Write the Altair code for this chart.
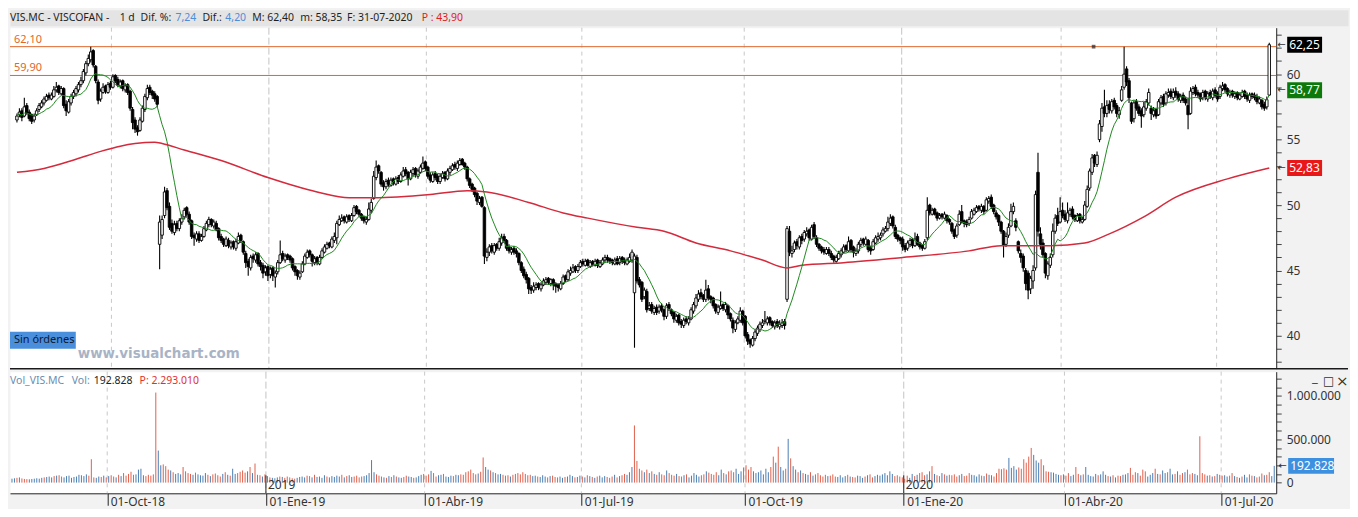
import altair as alt
import pandas as pd
import numpy as np

# ---------------- data ----------------
close_ = [
56.8,57.1,56.7,57.5,57.0,56.6,56.4,56.8,57.2,57.6,
57.8,58.1,58.3,58.2,58.4,58.8,59.0,58.6,58.9,57.6,
57.2,57.9,58.3,58.6,58.9,59.2,59.5,60.2,60.8,61.2,
61.7,60.7,59.5,58.0,58.7,59.0,58.7,59.2,59.0,59.8,
59.5,59.2,59.4,58.9,59.1,58.6,57.4,56.3,55.8,55.6,
56.5,57.4,58.3,58.9,58.6,58.4,58.1,57.7,48.7,48.9,
51.0,49.8,48.3,48.0,48.5,48.2,48.8,49.0,49.6,49.3,
48.7,47.6,47.5,47.8,47.3,47.6,48.2,48.6,48.9,48.5,
48.7,48.1,47.5,47.3,47.0,47.4,46.9,47.1,46.8,47.2,
47.6,47.3,46.4,45.6,45.3,46.0,45.9,46.2,45.5,45.3,
44.8,45.2,44.6,45.1,44.6,44.8,45.6,46.2,45.9,46.1,
46.0,45.8,45.2,44.9,44.6,44.8,45.5,46.1,46.4,46.2,
45.7,45.9,45.6,46.0,46.5,46.8,47.0,46.9,47.4,47.6,
48.6,48.9,49.0,48.8,49.1,48.9,49.2,49.8,49.5,49.3,
49.0,48.8,48.9,49.7,50.2,52.2,52.9,52.6,51.6,51.4,
51.8,51.6,51.9,51.7,52.0,51.8,52.3,52.6,52.4,52.0,
52.5,52.7,52.3,52.6,52.9,53.2,52.8,52.2,51.9,52.3,
52.1,51.8,52.2,52.4,52.0,52.6,52.8,53.0,52.9,53.2,
53.4,53.1,52.9,52.0,51.5,51.2,50.8,50.3,50.5,49.9,
46.1,46.4,46.8,46.5,46.9,46.7,47.2,47.5,47.3,46.7,
46.5,46.6,46.4,46.3,45.6,45.0,44.6,44.3,43.6,43.5,
43.8,43.9,43.7,43.9,44.2,44.3,44.1,44.3,43.9,43.8,
43.7,44.0,44.5,44.3,44.9,45.0,45.2,45.0,45.3,45.6,
45.5,45.7,45.4,45.6,45.5,45.7,45.4,45.6,45.8,46.0,
45.8,45.7,45.6,45.8,45.5,45.9,45.7,45.6,45.8,46.0,
46.4,46.1,44.2,43.9,42.8,43.5,42.0,42.3,41.9,42.1,
41.8,42.2,42.0,41.5,42.3,42.1,41.7,41.3,41.5,41.0,
40.9,41.2,41.1,41.3,42.0,42.4,42.9,43.2,43.0,42.8,
43.5,42.9,42.8,42.3,41.9,42.2,42.3,42.1,42.4,41.6,
41.3,40.6,41.0,41.3,41.9,41.0,40.0,39.6,39.4,39.8,
40.3,40.6,40.9,41.0,41.2,41.3,41.0,40.8,41.0,40.8,
40.9,41.0,40.8,48.2,46.4,46.5,47.1,46.9,47.5,47.3,
47.9,48.0,47.5,48.3,47.6,47.0,46.7,46.5,46.4,46.6,
46.3,46.0,45.8,46.0,46.3,46.5,46.8,46.6,47.2,46.6,
46.4,46.5,47.0,47.3,47.1,47.4,46.6,46.5,47.2,47.5,
47.6,47.7,48.1,48.2,48.7,49.0,48.4,47.6,47.4,47.3,
46.8,46.6,47.1,47.3,46.9,47.4,47.0,46.8,46.7,47.2,
49.6,49.4,49.6,49.3,49.0,49.2,49.1,49.3,48.8,48.7,
48.0,47.6,48.4,49.3,48.7,48.6,48.5,48.9,49.5,49.6,
49.8,49.7,49.9,49.5,50.4,50.5,49.9,49.5,49.1,48.7,
48.0,46.9,47.6,48.3,49.5,49.9,48.3,46.5,46.0,45.2,
44.0,43.5,44.4,45.0,50.8,48.0,47.0,46.2,44.8,45.5,
46.0,48.0,49.0,48.6,49.5,49.2,48.9,49.4,49.6,49.1,
48.9,49.2,48.8,48.9,50.0,51.2,52.6,53.6,53.2,53.8,
56.2,57.4,57.0,57.6,57.3,57.9,57.5,57.0,57.2,58.8,
60.0,59.4,58.2,56.4,57.8,57.4,57.0,56.8,57.5,57.9,
58.6,57.0,57.2,56.8,57.9,58.2,57.7,58.5,58.6,58.3,
58.6,58.4,58.1,58.3,58.0,57.8,56.9,58.7,58.9,58.5,
58.4,58.1,58.6,58.2,58.5,58.3,58.7,58.4,58.1,59.0,
59.1,58.8,58.5,58.6,58.4,58.5,58.2,58.4,58.6,58.3,
58.1,58.4,58.3,58.2,57.9,58.1,57.5,57.4,58.05,62.25]

open_ = [
56.5,56.9,57.2,56.8,57.6,57.1,56.9,56.5,56.9,57.3,
57.5,57.8,58.0,58.4,58.1,58.3,58.8,59.1,58.5,58.9,
57.7,57.1,57.8,58.3,58.5,58.8,59.2,59.5,60.1,60.8,
61.1,61.8,60.6,59.4,58.1,58.6,59.1,58.6,59.3,59.0,
59.9,59.6,59.1,59.5,58.8,59.2,58.7,57.3,56.5,55.9,
55.7,56.4,57.3,58.2,59.0,58.7,58.5,58.3,47.0,47.7,
49.2,51.1,49.9,48.6,47.9,48.6,48.2,48.7,49.1,49.8,
49.3,48.8,47.7,47.4,47.8,47.3,47.6,48.1,48.5,48.9,
48.4,48.6,48.2,47.6,47.4,46.9,47.3,46.8,47.2,46.7,
47.1,47.7,47.2,46.3,45.7,45.2,46.1,45.8,46.3,45.6,
45.4,44.9,45.3,44.7,45.2,44.5,44.9,45.6,46.3,45.8,
46.2,46.1,45.9,45.3,45.0,44.5,44.9,45.5,46.0,46.5,
46.2,45.6,46.0,45.5,46.0,46.4,46.7,47.1,46.8,47.3,
47.5,48.5,48.8,49.1,48.7,49.2,48.8,49.2,49.9,49.6,
49.3,49.1,48.7,48.9,49.6,50.5,52.1,53.0,52.5,51.7,
51.4,51.9,51.5,52.0,51.6,52.1,51.8,52.2,52.7,52.5,
52.0,52.4,52.8,52.2,52.5,52.8,53.3,52.9,52.3,51.8,
52.4,52.2,51.8,52.1,52.5,52.0,52.5,52.7,53.1,52.8,
53.1,53.5,53.2,52.9,52.0,51.6,51.3,50.9,50.2,50.6,
49.8,46.0,46.4,46.9,46.4,47.0,46.7,47.1,47.6,47.3,
46.8,46.4,46.7,46.5,46.3,45.6,45.1,44.7,44.4,43.7,
43.5,43.7,44.0,43.6,43.9,44.1,44.4,44.0,44.3,44.0,
43.9,43.6,44.0,44.6,44.3,44.8,44.9,45.3,45.0,45.3,
45.7,45.4,45.8,45.3,45.7,45.4,45.8,45.3,45.5,45.8,
46.0,45.9,45.8,45.5,45.9,45.6,46.0,45.8,45.5,45.7,
45.8,43.3,46.0,44.3,44.1,43.0,43.4,42.1,42.4,41.8,
42.2,41.9,42.3,42.0,41.5,42.4,42.0,41.8,41.2,41.6,
41.1,40.8,41.3,41.0,41.3,41.9,42.3,42.8,43.3,43.1,
42.8,43.6,43.0,42.9,42.4,41.8,42.1,42.4,42.0,42.3,
41.7,41.2,40.5,41.0,41.2,41.9,41.5,40.1,39.7,39.3,
39.8,40.2,40.5,40.8,41.1,41.0,41.4,41.1,40.7,41.1,
40.7,40.8,41.1,42.8,48.0,46.3,46.6,47.2,46.8,47.6,
47.4,47.8,48.1,47.4,48.5,47.5,47.0,46.8,46.6,46.3,
46.6,46.3,46.1,45.7,45.9,46.2,46.4,46.9,46.5,47.3,
46.8,46.3,46.5,47.0,47.4,47.0,47.3,46.7,46.6,47.1,
47.4,47.5,47.8,48.0,48.2,48.6,49.1,48.3,47.7,47.5,
47.4,46.9,46.7,47.0,47.4,46.9,47.6,47.1,46.9,46.7,
47.5,50.0,49.3,49.7,49.4,49.0,49.3,49.0,49.2,48.9,
48.6,48.1,47.7,48.5,49.5,48.8,48.7,48.6,49.0,49.3,
49.5,49.9,49.6,49.9,49.6,50.3,50.6,50.0,49.4,49.2,
48.7,48.0,47.0,47.7,48.4,49.5,48.8,47.2,46.3,46.1,
45.0,44.8,43.6,44.2,45.2,52.5,47.8,47.1,46.3,44.6,
45.4,46.2,48.0,49.2,48.7,49.6,49.3,48.8,49.3,49.7,
49.2,48.8,49.3,48.7,48.9,49.9,51.3,52.5,53.8,53.1,
55.0,56.0,57.5,57.0,57.7,57.2,58.0,57.6,56.9,58.0,
59.0,60.4,59.5,57.8,56.6,57.9,57.5,57.2,56.9,57.4,
57.8,57.4,56.9,57.3,56.9,57.8,58.3,57.8,58.4,58.7,
58.2,58.7,58.5,58.0,58.4,58.1,57.6,57.0,58.6,59.0,
58.6,58.5,58.2,58.7,58.1,58.6,58.2,58.8,58.5,58.3,
58.9,59.2,58.9,58.4,58.7,58.3,58.6,58.1,58.3,58.7,
58.4,58.0,58.5,58.4,58.3,57.8,58.0,57.7,57.5,58.40]

high_ = [
57.0,57.4,57.4,58.2,57.8,57.3,57.0,57.0,57.4,57.8,
58.0,58.3,58.5,58.6,58.6,59.1,59.4,59.2,59.1,59.0,
58.0,58.1,58.5,58.8,59.1,59.4,59.8,60.4,61.0,61.5,
62.1,61.9,60.7,59.6,58.9,59.3,59.2,59.4,59.5,60.0,
60.0,59.8,59.6,59.6,59.3,59.3,58.8,57.5,56.7,56.1,
56.7,57.6,58.5,59.2,59.2,58.8,58.7,58.4,49.2,49.2,
51.4,51.3,50.2,48.9,48.8,48.8,49.0,49.3,49.8,49.9,
49.5,48.9,47.9,48.0,48.0,47.8,48.4,48.8,49.1,49.0,
48.9,48.8,48.3,47.8,47.5,47.6,47.5,47.3,47.3,47.4,
47.9,47.8,47.3,46.5,45.9,46.2,46.3,46.4,46.4,45.8,
45.6,45.4,45.4,45.3,45.3,45.0,45.8,47.3,46.5,46.3,
46.3,46.2,46.0,45.4,45.1,45.0,45.7,46.3,46.6,46.6,
46.3,46.1,46.1,46.2,46.7,47.0,47.2,47.2,47.6,47.9,
48.8,49.2,49.3,49.2,49.3,49.3,49.4,50.0,50.0,49.7,
49.4,49.2,49.1,50.2,50.5,52.6,53.4,53.1,52.6,51.9,
52.0,52.1,52.1,52.1,52.2,52.3,52.5,52.9,52.9,52.6,
52.7,52.9,52.9,52.8,53.1,53.7,53.4,53.0,52.5,52.5,
52.6,52.4,52.4,52.6,52.6,52.8,53.0,53.2,53.3,53.4,
53.6,53.6,53.3,53.0,52.1,51.7,51.4,51.0,50.7,50.7,
49.9,46.7,47.0,47.1,47.1,47.1,47.5,47.8,47.8,47.4,
47.0,46.8,46.9,46.7,46.4,45.7,45.3,44.9,44.5,43.9,
44.1,44.1,44.1,44.1,44.4,44.5,44.5,44.4,44.4,44.1,
44.0,44.2,44.7,44.7,45.1,45.3,45.5,45.4,45.5,45.8,
45.9,45.9,45.9,45.8,45.8,45.9,45.9,45.8,46.0,46.2,
46.2,46.0,45.9,46.0,46.1,46.1,46.1,46.0,46.0,46.3,
46.6,46.3,46.2,44.5,44.2,43.7,43.6,42.6,42.6,42.3,
42.4,42.4,42.5,42.1,42.5,42.6,42.1,41.9,41.7,41.7,
41.3,41.4,41.5,41.5,42.2,42.6,43.2,43.5,43.6,43.2,
44.3,43.9,43.1,43.0,42.5,42.4,43.4,42.5,42.6,42.4,
41.8,41.4,41.2,41.5,42.2,42.0,41.6,40.3,39.8,40.0,
40.5,40.8,41.1,41.3,41.9,41.5,41.5,41.2,41.2,41.3,
41.2,41.3,41.3,48.4,48.4,46.9,47.3,47.4,47.7,47.8,
48.1,48.3,48.2,48.5,48.7,47.7,47.1,46.9,46.8,46.8,
46.8,46.5,46.2,46.2,46.5,46.7,47.0,47.0,47.6,47.4,
46.9,46.7,47.2,47.5,47.5,47.6,47.4,46.9,47.4,47.7,
47.9,47.9,48.3,48.4,49.1,49.3,49.2,48.5,47.8,47.6,
47.6,47.1,47.3,47.5,47.5,47.9,47.8,47.2,47.0,47.4,
50.6,50.1,49.8,49.8,49.5,49.4,49.4,49.5,49.3,49.0,
48.7,48.2,48.6,49.6,50.0,48.9,48.9,49.1,49.7,49.8,
50.0,50.0,50.1,50.0,50.6,50.7,50.8,50.1,49.6,49.3,
48.8,48.1,47.9,48.6,50.1,50.2,49.0,47.3,46.6,46.3,
45.2,45.0,44.6,45.4,51.1,54.0,48.3,47.4,46.4,45.7,
46.3,48.6,49.3,49.8,50.6,50.2,49.6,50.2,49.8,49.9,
49.3,49.4,49.4,49.1,50.3,51.5,52.8,53.9,53.9,54.1,
56.5,57.8,58.8,58.0,58.0,58.1,58.2,57.8,57.5,59.1,
62.1,60.6,59.7,57.9,58.0,58.1,57.7,57.4,57.9,58.1,
58.9,57.6,57.5,57.4,58.1,58.4,58.5,58.7,58.9,58.9,
58.9,59.0,58.7,58.5,58.6,58.3,58.2,59.0,59.1,59.2,
58.8,58.6,58.8,58.8,58.7,58.8,58.9,59.0,58.7,59.2,
59.4,59.3,59.0,58.8,58.8,58.7,58.7,58.6,58.8,58.8,
58.6,58.6,58.6,58.6,58.5,58.3,58.1,57.9,58.3,62.40]

low_ = [
56.3,56.7,56.4,56.7,56.9,56.4,56.2,56.3,56.8,57.1,
57.4,57.6,57.9,58.0,58.0,58.2,58.6,58.4,58.4,57.4,
56.8,57.0,57.6,58.1,58.3,58.6,59.0,59.3,59.9,60.6,
60.9,60.5,59.3,57.7,57.9,58.5,58.5,58.5,58.8,58.9,
59.3,59.0,58.9,58.7,58.6,58.4,57.2,55.8,55.5,55.3,
55.6,56.3,57.1,58.0,58.4,58.1,57.9,57.5,45.1,47.4,
49.0,49.6,48.1,47.8,47.7,48.0,48.0,48.5,48.9,49.1,
48.5,47.4,46.9,47.2,47.1,47.2,47.5,48.0,48.3,48.3,
48.2,48.0,47.3,47.1,46.8,46.8,46.7,46.6,46.6,46.5,
47.0,47.1,46.2,45.2,44.6,45.0,45.6,45.6,45.3,45.0,
44.4,44.6,44.2,44.4,44.2,43.7,44.7,45.5,45.7,45.6,
45.8,45.6,45.0,44.6,44.3,44.3,44.8,45.4,45.9,46.0,
45.3,45.4,45.4,45.4,45.9,46.3,46.6,46.7,46.7,47.1,
47.0,48.4,48.7,48.6,48.6,48.7,48.7,49.1,49.3,49.1,
48.8,48.6,48.5,48.8,49.4,50.4,51.9,52.4,51.4,51.1,
51.2,51.4,51.4,51.5,51.5,51.6,51.7,52.1,52.2,51.5,
51.9,52.2,52.1,52.0,52.4,52.7,52.6,52.0,51.7,51.7,
51.9,51.6,51.6,52.0,51.8,51.9,52.3,52.6,52.7,52.6,
53.0,53.0,52.7,51.8,51.3,51.0,50.6,50.0,50.0,49.8,
45.5,45.7,46.1,46.3,46.2,46.5,46.5,46.9,47.1,46.5,
46.3,46.2,46.2,46.0,45.4,44.8,44.4,44.0,43.2,43.2,
43.3,43.5,43.5,43.4,43.8,43.9,43.9,43.8,43.5,43.3,
43.4,43.5,43.9,44.1,44.2,44.6,44.8,44.8,44.8,45.2,
45.3,45.3,45.3,45.2,45.3,45.3,45.2,45.2,45.4,45.6,
45.6,45.5,45.4,45.4,45.4,45.4,45.5,45.4,45.4,45.6,
45.6,39.1,44.0,43.7,42.6,42.8,41.8,41.9,41.7,41.6,
41.6,41.7,41.8,41.2,41.3,41.9,41.5,41.0,41.0,40.8,
40.6,40.6,40.9,40.8,41.2,41.7,42.1,42.6,42.8,42.6,
42.6,42.7,42.5,42.1,41.7,41.6,42.0,41.9,41.8,41.3,
41.1,40.2,40.3,40.9,41.0,40.8,39.8,39.3,39.1,39.2,
39.6,40.0,40.3,40.6,40.9,40.8,40.8,40.6,40.5,40.6,
40.5,40.6,40.5,42.6,46.1,46.0,46.4,46.6,46.6,47.0,
47.2,47.6,47.3,47.3,47.4,46.8,46.5,46.3,46.2,46.2,
46.1,45.8,45.6,45.6,45.8,46.0,46.3,46.4,46.4,46.4,
46.0,46.1,46.3,46.8,46.9,46.9,46.4,46.2,46.5,47.0,
47.2,47.3,47.6,47.9,48.0,48.4,48.2,47.4,47.2,47.0,
46.5,46.4,46.5,46.8,46.7,46.8,46.9,46.6,46.5,46.6,
47.3,49.2,49.2,49.2,48.8,48.9,48.9,48.9,48.6,48.5,
47.8,47.4,47.5,48.4,48.6,48.3,48.3,48.4,48.9,49.2,
49.4,49.5,49.4,49.3,49.5,50.1,49.7,49.3,48.9,48.4,
47.8,46.0,46.8,47.5,48.3,49.3,48.0,46.3,45.6,44.9,
43.5,42.8,43.2,43.6,45.0,47.6,46.6,46.0,44.4,44.3,
45.2,46.0,47.8,48.4,48.6,49.0,48.7,48.6,49.1,48.9,
48.7,48.7,48.6,48.6,48.8,49.8,51.1,52.3,52.9,52.9,
54.8,55.6,56.7,56.7,57.0,57.0,57.3,56.7,56.6,57.9,
58.8,59.1,57.8,56.2,56.3,57.2,56.8,55.9,56.7,57.2,
57.6,56.5,56.7,56.6,56.8,57.6,57.5,57.6,58.2,58.1,
58.0,58.2,57.9,57.8,57.8,57.6,55.8,56.9,58.4,58.3,
58.2,57.9,58.0,58.0,57.9,58.1,58.0,58.2,57.9,58.1,
58.7,58.6,58.3,58.2,58.2,58.1,58.0,58.0,58.2,58.1,
57.9,57.8,58.1,58.0,57.7,57.7,57.3,57.2,57.3,58.35]

volume_k = [
45,50,55,60,48,42,40,38,42,45,
50,45,55,60,65,70,60,75,80,85,
70,60,75,80,55,65,70,90,85,75,
95,80,270,60,55,70,65,80,60,75,
85,70,60,90,75,110,80,100,125,90,
95,150,160,85,75,90,80,95,1040,370,
200,210,190,150,140,120,100,110,95,180,
130,110,100,90,115,95,85,80,110,90,
75,95,105,85,70,100,120,90,80,160,
100,110,125,140,115,130,180,110,220,90,
85,70,95,75,60,55,50,60,70,65,
55,70,60,50,45,55,65,70,60,80,
75,60,90,65,70,55,85,70,60,75,
65,80,70,90,60,75,85,65,70,80,
60,70,75,85,110,260,120,95,80,70,
60,55,75,65,85,70,60,55,65,80,
70,65,55,60,75,90,100,80,95,135,
110,70,85,90,100,70,65,80,75,90,
85,95,90,120,130,150,110,95,105,125,
290,180,150,140,120,110,95,100,90,80,
85,70,90,100,110,95,120,100,85,90,
75,80,70,65,85,70,60,75,80,65,
60,70,55,65,70,90,75,60,65,80,
70,60,85,75,65,55,70,80,60,75,
65,55,70,90,60,75,85,100,90,120,
180,660,250,160,140,120,150,110,130,100,
90,120,95,85,140,110,90,80,100,75,
70,85,95,60,80,110,90,70,85,95,
130,115,100,90,120,85,150,110,95,130,
140,120,160,100,130,175,200,150,180,130,
110,120,140,95,160,120,180,300,230,415,
180,140,160,505,280,190,150,120,140,110,
100,90,120,80,95,110,85,70,90,75,
80,95,70,65,85,60,75,90,70,65,
60,80,75,55,70,85,95,60,75,90,
80,95,110,85,130,100,75,85,70,60,
45,80,55,100,75,90,110,120,85,95,
130,190,100,85,75,110,95,80,90,85,
95,70,85,100,75,80,110,90,85,70,
95,80,75,105,90,85,70,110,160,155,
165,150,285,170,190,150,175,160,270,230,
300,400,320,255,230,270,200,130,125,120,
115,100,90,85,95,80,110,75,90,180,
100,85,95,180,90,75,70,100,85,95,
130,90,75,70,85,60,80,75,90,95,
110,170,90,120,110,80,150,130,70,90,
110,160,100,95,140,110,120,160,95,100,
130,90,110,120,150,95,110,100,85,535,
110,95,80,85,70,75,100,90,80,85,
70,80,110,75,65,55,70,90,60,95,
80,75,60,70,105,85,90,120,75,192.828]

# 200-session average (red), read at key points: bar index -> value
ma200_idx = [0,11,24,34,42,48,56,59,68,83,102,122,135,145,168,183,191,208,222,232,
             252,263,276,290,303,313,319,336,360,387,400,420,434,444,458,471,492,509]
ma200_val = [52.5,52.8,53.5,54.1,54.5,54.7,54.8,54.7,54.2,53.4,52.1,51.0,50.55,50.55,50.8,51.1,51.0,50.2,49.4,49.0,
             48.3,48.0,47.1,46.5,45.8,45.2,45.4,45.6,46.0,46.5,46.9,46.9,47.1,47.8,49.1,50.6,52.0,52.83]

tick_idx = [38.4, 102.4, 166.4, 229.6, 295.6, 359.6, 424.4, 487.6]
tick_lab = ["01-Oct-18", "01-Ene-19", "01-Abr-19", "01-Jul-19", "01-Oct-19", "01-Ene-20", "01-Abr-20", "01-Jul-20"]
year_idx = [102.4, 359.6]
year_lab = ["2019", "2020"]

level_vals = [62.10, 59.90]
level_labs = ["62,10", "59,90"]

tag_vals = [62.25, 58.77, 52.83]
tag_labs = ["62,25", "58,77", "52,83"]
tag_cols = ["#000000", "#0b7a0b", "#e81818"]

vtag_val = [192828]
vtag_lab = ["192.828"]

marker_idx = [437.6]
marker_val = [62.10]

# ---------------- layout ----------------
W, HP, HV, HH, TOTW = 1270, 342, 122, 16, 1342
FONT = "Noto Sans"

df = pd.DataFrame({"idx": np.arange(len(close_)), "open": open_, "high": high_,
                   "low": low_, "close": close_, "vol": [v * 1000 for v in volume_k]})
df["fill"] = np.where(df["close"] >= df["open"], "white", "black")
prev = df["close"].shift(1).fillna(df["open"])
df["vcol"] = np.where(df["close"] >= prev, "#4a7db3", "#e0604c")
df["zero"] = 0

ann = pd.DataFrame({"k": [0]})

xscale = alt.Scale(domain=[-0.8, 509.8], nice=False, zero=False)
yscale = alt.Scale(domain=[37.5, 63.55], nice=False, zero=False)
vscale = alt.Scale(domain=[-123600, 1281000], nice=False, zero=False)

yaxis = alt.Axis(orient="right", values=list(range(38, 64)),
                 labelExpr="datum.value % 5 == 0 ? format(datum.value, 'd') : ''",
                 tickSize=5, labelPadding=5, labelOverlap=False, grid=False, title=None,
                 labelFontSize=12, domainColor="#222", tickColor="#444", labelColor="#333")

vexpr = "datum.value == 0 ? '0' : datum.value == 500000 ? '500.000' : datum.value == 1000000 ? '1.000.000' : ''"
vaxis = alt.Axis(orient="right", values=[i * 100000 for i in range(13)], labelExpr=vexpr,
                 tickSize=5, labelPadding=5, labelOverlap=False, grid=False, title=None,
                 labelFontSize=12, domainColor="#222", tickColor="#444", labelColor="#333")

xexpr = "''"
for v, l in reversed(list(zip(tick_idx, tick_lab))):
    xexpr = f"datum.value == {v} ? '{l}' : ({xexpr})"
xaxis = alt.Axis(values=tick_idx, labelExpr=xexpr, grid=False, title=None, tickSize=12,
                 tickColor="#222", domainColor="#222", labelAlign="left", labelBaseline="top",
                 labelPadding=-9, labelOffset=3, labelFontSize=12, labelColor="#333",
                 labelOverlap=False, labelFlush=False)


def label(txt, x, y, color, size=11, align="left", weight="normal", font=FONT):
    return alt.Chart(ann).mark_text(text=txt, align=align, baseline="middle", fontSize=size,
                                    color=color, fontWeight=weight, font=font).encode(
        x=alt.value(x), y=alt.value(y))


# ---------------- header ----------------
head_parts = [("VIS.MC - VISCOFAN -", 0, "#1e1e1e"), ("1 d", 110, "#1e1e1e"),
              ("Dif. %:", 131, "#1e1e1e"), ("7,24", 166, "#4a8fd8"),
              ("Dif.:", 193, "#1e1e1e"), ("4,20", 216, "#4a8fd8"),
              ("M: 62,40", 243, "#1e1e1e"), ("m: 58,35", 291, "#1e1e1e"),
              ("F: 31-07-2020", 338, "#1e1e1e"), ("P : 43,90", 413, "#e02020")]
header = alt.layer(*[label(t, x, HH / 2, c, size=10.5) for t, x, c in head_parts]).properties(
    width=TOTW, height=HH, view=alt.ViewBackground(fill="#e4e4e4", stroke="transparent"))

# ---------------- price panel ----------------
grid_n = pd.DataFrame({"idx": [v for v in tick_idx if v not in year_idx]})
grid_y = pd.DataFrame({"idx": year_idx})
gx = alt.X("idx:Q", scale=xscale, axis=None)

p_grid1 = alt.Chart(grid_n).mark_rule(color="#c8c8c8", strokeDash=[4, 4]).encode(x=gx)
p_grid2 = alt.Chart(grid_y).mark_rule(color="#c4c4c4", strokeDash=[7, 3]).encode(x=gx)

lv = pd.DataFrame({"v": level_vals, "t": level_labs})
p_lev = alt.Chart(lv).mark_rule(color="#e0662c", strokeWidth=1).encode(
    y=alt.Y("v:Q", scale=yscale, axis=yaxis))
p_levt = alt.Chart(lv).mark_text(align="left", baseline="bottom", dy=-2, fontSize=11,
                                 color="#e0662c", font=FONT).encode(
    x=alt.value(4), y=alt.Y("v:Q", scale=yscale, axis=yaxis), text="t:N")

p_wick = alt.Chart(df).mark_rule(color="black", strokeWidth=1.1).encode(
    x=gx, y=alt.Y("low:Q", scale=yscale, axis=yaxis), y2="high:Q")
p_body = alt.Chart(df).mark_bar(width=2.5, stroke="black", strokeWidth=0.9).encode(
    x=gx, y=alt.Y("open:Q", scale=yscale, axis=yaxis), y2="close:Q",
    fill=alt.Fill("fill:N", scale=None))

ma_df = pd.DataFrame({"idx": ma200_idx, "v": ma200_val})
p_red = alt.Chart(ma_df).mark_line(color="#d42a3c", strokeWidth=1.5, interpolate="monotone").encode(
    x=gx, y=alt.Y("v:Q", scale=yscale, axis=yaxis))
p_green = alt.Chart(df).transform_window(
    ma="mean(close)", frame=[-9, 0], sort=[alt.SortField("idx")]
).mark_line(color="#1f8a1f", strokeWidth=1).encode(
    x=gx, y=alt.Y("ma:Q", scale=yscale, axis=yaxis))

mk = pd.DataFrame({"idx": marker_idx, "v": marker_val})
p_mark = alt.Chart(mk).mark_point(shape="square", filled=True, size=14, color="#222").encode(
    x=gx, y=alt.Y("v:Q", scale=yscale, axis=yaxis))

tags = pd.DataFrame({"v": tag_vals, "t": tag_labs, "bg": tag_cols})
p_tagr = alt.Chart(tags).mark_rect(yOffset=-8, y2Offset=8).encode(
    x=alt.value(W + 11), x2=alt.value(W + 46), y=alt.Y("v:Q", scale=yscale, axis=yaxis), y2="v:Q",
    fill=alt.Fill("bg:N", scale=None))
p_tagt = alt.Chart(tags).mark_text(align="left", baseline="middle", color="white", fontSize=12,
                                   font=FONT).encode(
    x=alt.value(W + 13), y=alt.Y("v:Q", scale=yscale, axis=yaxis), text="t:N")
p_taga = alt.Chart(tags).mark_text(text="←", align="left", baseline="middle", color="#333",
                                   fontSize=10, font="DejaVu Sans").encode(
    x=alt.value(W + 1), y=alt.Y("v:Q", scale=yscale, axis=yaxis))

p_sinbox = alt.Chart(ann).mark_rect(color="#4a8fdc").encode(
    x=alt.value(0), x2=alt.value(66), y=alt.value(HP - 37), y2=alt.value(HP - 20))
p_sin = label("Sin órdenes", 4, HP - 28.5, "#0c1a33", size=11)
p_www = label("www.visualchart.com", 68, HP - 15, "#a9b3c6", size=13.5, weight="bold",
              font="DejaVu Sans")
p_sep = alt.Chart(ann).mark_rule(color="#1a1a1a", strokeWidth=1.5).encode(
    x=alt.value(0), x2=alt.value(TOTW), y=alt.value(HP))

price = alt.layer(p_grid1, p_grid2, p_lev, p_levt, p_wick, p_body, p_red, p_green, p_mark,
                  p_tagr, p_tagt, p_taga, p_sinbox, p_sin, p_www, p_sep).properties(
    width=W, height=HP, view=alt.ViewBackground(fill="white", stroke="transparent"))

# ---------------- volume panel ----------------
vx = alt.X("idx:Q", scale=xscale, axis=xaxis)
v_grid1 = alt.Chart(grid_n).mark_rule(color="#c8c8c8", strokeDash=[4, 4]).encode(x=vx)
v_grid2 = alt.Chart(grid_y).mark_rule(color="#c4c4c4", strokeDash=[7, 3]).encode(x=vx)
v_bars = alt.Chart(df).mark_rule(strokeWidth=1).encode(
    x=vx, y=alt.Y("vol:Q", scale=vscale, axis=vaxis), y2="zero:Q",
    color=alt.Color("vcol:N", scale=None))

yr = pd.DataFrame({"idx": year_idx, "t": year_lab})
v_yr = alt.Chart(yr).mark_rule(color="#222").encode(x=vx, y=alt.value(HV - 18), y2=alt.value(HV))
v_yrt = alt.Chart(yr).mark_text(align="left", baseline="middle", dx=2, fontSize=12,
                                color="#333", font=FONT).encode(x=vx, y=alt.value(HV - 8), text="t:N")

vt = pd.DataFrame({"v": vtag_val, "t": vtag_lab})
v_tagr = alt.Chart(vt).mark_rect(yOffset=-8, y2Offset=8, color="#3d8fe0").encode(
    x=alt.value(W + 12), x2=alt.value(W + 58), y=alt.Y("v:Q", scale=vscale, axis=vaxis), y2="v:Q")
v_tagt = alt.Chart(vt).mark_text(align="left", baseline="middle", color="white", fontSize=12,
                                 font=FONT).encode(
    x=alt.value(W + 14), y=alt.Y("v:Q", scale=vscale, axis=vaxis), text="t:N")
v_taga = alt.Chart(vt).mark_text(text="←", align="left", baseline="middle", color="#333",
                                 fontSize=10, font="DejaVu Sans").encode(
    x=alt.value(W + 2), y=alt.Y("v:Q", scale=vscale, axis=vaxis))

vol_parts = [("Vol_VIS.MC", 0, "#6b8db0"), ("Vol:", 62, "#6b8db0"),
             ("192.828", 84, "#222222"), ("P: 2.293.010", 130, "#e03030")]
v_head = [label(t, x, 9, c, size=10.5) for t, x, c in vol_parts]
v_icons = [label("_", W + 36, 6, "#333", size=13), label("□", W + 47, 9, "#333", size=12, font="DejaVu Sans"),
           label("×", W + 60, 9, "#333", size=15, font="DejaVu Sans")]

volume = alt.layer(v_grid1, v_grid2, v_bars, v_yr, v_yrt, v_tagr, v_tagt, v_taga,
                   *v_head, *v_icons).properties(
    width=W, height=HV, view=alt.ViewBackground(fill="white", stroke="transparent"))

chart = alt.vconcat(header, price, volume, spacing=0).properties(
    background="#f2f2f2", padding=0
).configure_view(stroke="transparent").configure_axis(labelFont=FONT)

chart.save("out.html", embed_options={"renderer": "svg", "actions": False})
